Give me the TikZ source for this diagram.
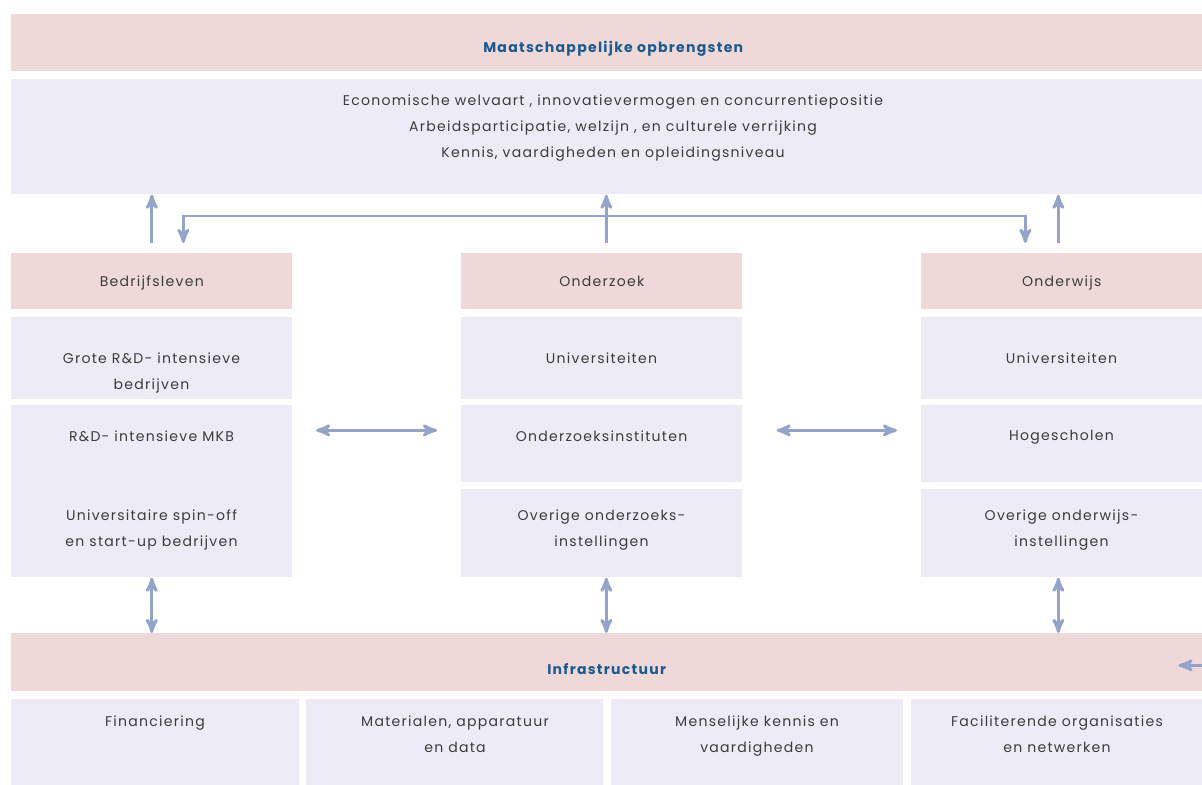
\documentclass[tikz,border=0pt]{standalone}
\usepackage{fontspec}
\setmainfont{Poppins}[LetterSpace=9]
\usetikzlibrary{arrows}
\usetikzlibrary{calc}
\tikzset{>=stealth'}
\definecolor{kop}{RGB}{239, 216, 216}
\definecolor{vak}{RGB}{237, 235, 245}
\definecolor{pijl}{RGB}{148, 163, 200}
\definecolor{titel}{RGB}{26, 90, 144}
\definecolor{tekst}{RGB}{60, 60, 60}
\tikzset{
	kopbalk/.style={fill=kop, anchor=north west, inner sep=0pt, text=tekst, text height=6pt, text depth=0pt, font=\fontsize{8}{15}\selectfont},
	titelbalk/.style={kopbalk, text=titel, font=\fontsize{8}{15}\selectfont\bfseries},
	vakblok/.style={fill=vak, anchor=north west, inner sep=0pt},
	vaktekst/.style={anchor=north, align=center, inner sep=0pt, text=tekst, font=\fontsize{8}{15}\selectfont},
	pijlen/.style={draw=pijl, line width=1.7pt}
}

\begin{document}
\begin{tikzpicture}[x=0.02cm, y=-0.02cm]
				\useasboundingbox (0,0) rectangle (1202,784);
				
				% maatschappelijke opbrengsten
				\node[titelbalk, text height=11pt, minimum width=24.08cm, minimum height=1.14cm] (opbrengst) at (11,14) {Maatschappelijke opbrengsten};
				\node[vakblok, minimum width=24.08cm, minimum height=2.3cm] (welvaart) at (11,79) {};
				\node[vaktekst] (welvaarttekst) at (613,94) {Economische welvaart , innovatievermogen en concurrentiepositie\\Arbeidsparticipatie, welzijn , en culturele verrijking\\Kennis, vaardigheden en opleidingsniveau};
				
				% bedrijfsleven
				\node[kopbalk, minimum width=5.62cm, minimum height=1.12cm] (bedrijf) at (11,253) {Bedrijfsleven};
				\node[vakblok, minimum width=5.62cm, minimum height=1.64cm] (groot) at (11,317) {};
				\node[vakblok, minimum width=5.62cm, minimum height=3.44cm] (mkb) at (11,405) {};
				\node[vaktekst] (groottekst) at (151.5,352) {Grote R\&D- intensieve\\bedrijven};
				\node[vaktekst] (mkbtekst) at (151.5,430) {R\&D- intensieve MKB};
				\node[vaktekst] (spinofftekst) at (151.5,509) {Universitaire spin-off\\en start-up bedrijven};
				
				% onderzoek
				\node[kopbalk, minimum width=5.62cm, minimum height=1.12cm] (onderzoek) at (461,253) {Onderzoek};
				\node[vakblok, minimum width=5.62cm, minimum height=1.64cm] (zoekuni) at (461,317) {};
				\node[vakblok, minimum width=5.62cm, minimum height=1.54cm] (zoekinst) at (461,405) {};
				\node[vakblok, minimum width=5.62cm, minimum height=1.76cm] (zoekrest) at (461,489) {};
				\node[vaktekst] (zoekunitekst) at (601.5,352) {Universiteiten};
				\node[vaktekst] (zoekinsttekst) at (601.5,430) {Onderzoeksinstituten};
				\node[vaktekst] (zoekresttekst) at (601.5,509) {Overige onderzoeks-\\instellingen};
				
				% onderwijs
				\node[kopbalk, minimum width=5.62cm, minimum height=1.12cm] (onderwijs) at (921,253) {Onderwijs};
				\node[vakblok, minimum width=5.62cm, minimum height=1.64cm] (wijsuni) at (921,317) {};
				\node[vakblok, minimum width=5.62cm, minimum height=1.54cm] (hoge) at (921,405) {};
				\node[vakblok, minimum width=5.62cm, minimum height=1.76cm] (wijsrest) at (921,489) {};
				\node[vaktekst] (wijsunitekst) at (1061.5,352) {Universiteiten};
				\node[vaktekst] (hogetekst) at (1061.5,430) {Hogescholen};
				\node[vaktekst] (wijsresttekst) at (1061.5,509) {Overige onderwijs-\\instellingen};
				
				% infrastructuur
				\node[titelbalk, text height=13.8pt, minimum width=23.82cm, minimum height=1.16cm] (infra) at (11,633) {Infrastructuur};
				\node[vakblok, minimum width=5.76cm, minimum height=1.8cm] (geld) at (11,699) {};
				\node[vakblok, minimum width=5.94cm, minimum height=1.8cm] (data) at (306,699) {};
				\node[vakblok, minimum width=5.84cm, minimum height=1.8cm] (kennis) at (611,699) {};
				\node[vakblok, minimum width=5.82cm, minimum height=1.8cm] (netwerk) at (911,699) {};
				\node[vaktekst] (geldtekst) at (155,715) {Financiering};
				\node[vaktekst] (datatekst) at (455,715) {Materialen, apparatuur\\en data};
				\node[vaktekst] (kennistekst) at (757,715) {Menselijke kennis en\\vaardigheden};
				\node[vaktekst] (netwerktekst) at (1057,715) {Faciliterende organisaties\\en netwerken};
				
				% pijlen naar boven
				\coordinate (kruis) at (606,216);
				\draw[pijlen,->] ([yshift=0.2cm]bedrijf.north) -- (bedrijf.north |- welvaart.south);
				\draw[pijlen,->] ($(onderzoek.north)+(4.5,-10)$) -- ($(onderzoek.north |- welvaart.south)+(4.5,0)$);
				\draw[pijlen,->] ($(onderwijs.north)+(-3.5,-10)$) -- ($(onderwijs.north |- welvaart.south)+(-3.5,0)$);
				\draw[pijlen,<->] ($(bedrijf.north)+(31.5,-10)$) |- (kruis) -| ($(onderwijs.north)+(-36.5,-10)$);
				
				% pijlen tussen de kolommen
				\draw[pijlen,<->] ($(zoekinst.west)+(-145,-13.5)$) -- ($(zoekinst.west)+(-24,-13.5)$);
				\draw[pijlen,<->] ($(zoekinst.east)+(34,-13.5)$) -- ($(hoge.west)+(-24,-13.5)$);
				
				% pijlen naar infrastructuur
				\draw[pijlen,<->] (mkb.south) -- (mkb.south |- infra.north);
				\draw[pijlen,<->] ($(zoekrest.south)+(4.5,0)$) -- ($(zoekrest.south |- infra.north)+(4.5,0)$);
				\draw[pijlen,<->] ($(wijsrest.south)+(-3.5,0)$) -- ($(wijsrest.south |- infra.north)+(-3.5,0)$);
				\draw[pijlen,->] ($(infra.east)+(40,3)$) -- ($(infra.east)+(-24,3)$);
			
			\end{tikzpicture}
\end{document}
